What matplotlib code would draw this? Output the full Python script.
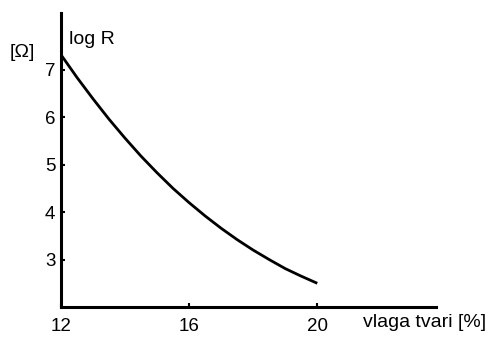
import matplotlib.pyplot as plt

# podaci ocitani s grafa
vlaga = [12, 12.5, 13, 13.5, 14, 14.5, 15, 15.5, 16, 16.5, 17, 17.5, 18, 18.5, 19, 19.5, 20]
log_r = [7.32, 6.84, 6.39, 5.96, 5.56, 5.18, 4.83, 4.50, 4.20, 3.92,
         3.66, 3.42, 3.20, 3.00, 2.81, 2.65, 2.50]
x_ticks = [12, 16, 20]
y_ticks = [3, 4, 5, 6, 7]

plt.rcParams['font.family'] = ['Liberation Sans', 'DejaVu Sans']

fig = plt.figure(figsize=(4.93, 3.38), dpi=100)
ax = fig.add_axes([0.1237, 0.0917, 0.884 - 0.1237, 0.9615 - 0.0917])

ax.plot(vlaga, log_r, color='black', lw=2.0, solid_capstyle='butt')

ax.set_xlim(12, 23.7)
ax.set_ylim(2, 8.2)
ax.spines['top'].set_visible(False)
ax.spines['right'].set_visible(False)
ax.spines['left'].set_linewidth(2.2)
ax.spines['bottom'].set_linewidth(2.2)
ax.set_xticks(x_ticks)
ax.set_yticks(y_ticks)
ax.tick_params(direction='in', length=3, width=1.5, labelsize=13.5, pad=8)
ax.tick_params(axis='y', pad=4)

fig.text(0.14, 0.882, 'log R', fontsize=14, va='center', ha='left')
fig.text(0.02, 0.845, '[Ω]', fontsize=14, va='center', ha='left')
fig.text(0.736, 0.047, 'vlaga tvari [%]', fontsize=14, va='center', ha='left')

fig.savefig('out.png', dpi=100)
